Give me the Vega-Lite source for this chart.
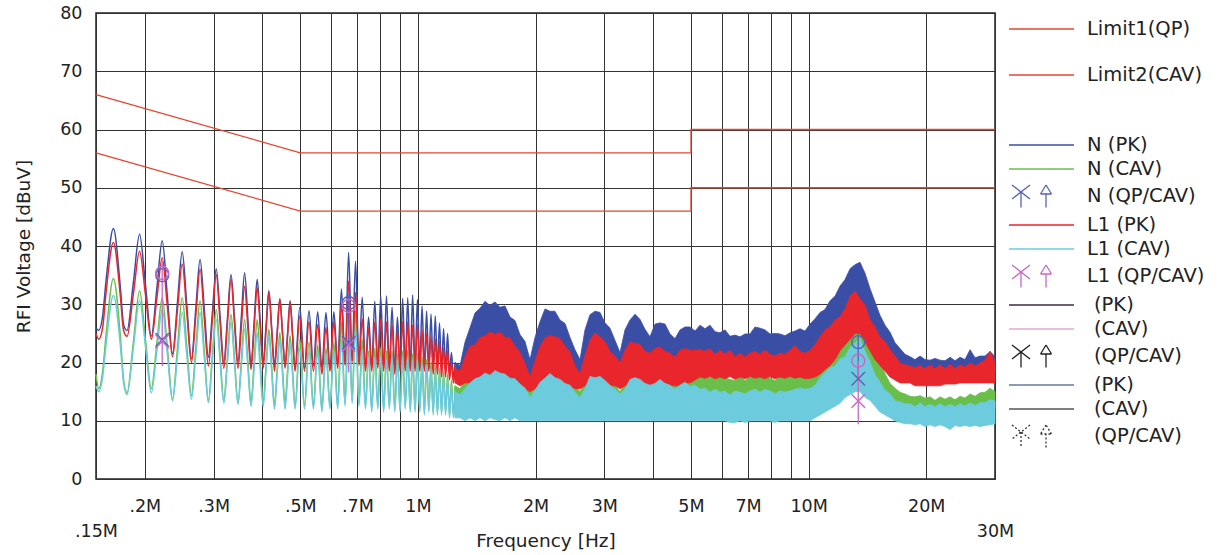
{
"$schema":"https://vega.github.io/schema/vega-lite/v6.json",
"width":899,"height":466,
"autosize":{"type":"none"},
"padding":{"left":96,"top":13,"right":225,"bottom":76},
"background":"white",
"config":{
 "font":"DejaVu Sans",
 "view":{"stroke":"#222","strokeWidth":1.5},
 "axis":{"grid":true,"gridColor":"#333","gridWidth":1,"gridOpacity":1,"ticks":false,"tickSize":0,"domain":false,"labelFont":"DejaVu Sans","labelFontSize":17.5,"labelColor":"#222","titleFont":"DejaVu Sans","titleFontSize":18.5,"titleFontWeight":"normal","titleColor":"#222"},
 "legend":{"labelFont":"DejaVu Sans","labelFontSize":19.5,"labelColor":"#222","padding":0}
},
"datasets":{
 "lim":[
  {"f":0.15,"v":66,"lim":"Limit1(QP)","i":0},{"f":0.5,"v":56,"lim":"Limit1(QP)","i":1},{"f":5,"v":56,"lim":"Limit1(QP)","i":2},{"f":5,"v":60,"lim":"Limit1(QP)","i":3},{"f":30,"v":60,"lim":"Limit1(QP)","i":4},
  {"f":0.15,"v":56,"lim":"Limit2(CAV)","i":0},{"f":0.5,"v":46,"lim":"Limit2(CAV)","i":1},{"f":5,"v":46,"lim":"Limit2(CAV)","i":2},{"f":5,"v":50,"lim":"Limit2(CAV)","i":3},{"f":30,"v":50,"lim":"Limit2(CAV)","i":4}
 ],
 "lo":[
  {"f":0.15,"n":26,"g":18,"l":25,"c":16},
  {"f":0.1524,"n":25.5,"g":15.5,"l":24,"c":15},
  {"f":0.156,"n":28,"g":18.5,"l":26,"c":17.5},
  {"f":0.1593,"n":34.3,"g":25,"l":32.3,"c":23.3},
  {"f":0.1662,"n":43,"g":34.4,"l":40.6,"c":31.5},
  {"f":0.1731,"n":33,"g":24.6,"l":31.5,"c":23},
  {"f":0.1765,"n":26.5,"g":17,"l":25.5,"c":16.5},
  {"f":0.1801,"n":25.5,"g":14.8,"l":24.5,"c":14.5},
  {"f":0.187,"n":33.8,"g":23.6,"l":31.8,"c":22.6},
  {"f":0.1939,"n":42,"g":32.3,"l":39.1,"c":30.6},
  {"f":0.2008,"n":33.3,"g":23.9,"l":31.6,"c":22.7},
  {"f":0.2078,"n":24.5,"g":15.5,"l":24,"c":14.8},
  {"f":0.2147,"n":32.7,"g":23.3,"l":31,"c":22},
  {"f":0.2216,"n":40.9,"g":31.1,"l":38,"c":29.1},
  {"f":0.2285,"n":31.2,"g":22.4,"l":29.5,"c":21.3},
  {"f":0.2355,"n":21.5,"g":13.7,"l":21,"c":13.4},
  {"f":0.2424,"n":30.3,"g":22.4,"l":29,"c":21},
  {"f":0.2493,"n":39,"g":31.1,"l":36.9,"c":28.6},
  {"f":0.2562,"n":29.8,"g":22.7,"l":28.5,"c":21.2},
  {"f":0.2632,"n":20.6,"g":14.3,"l":20,"c":13.7},
  {"f":0.2701,"n":29.2,"g":22.5,"l":28,"c":21.2},
  {"f":0.277,"n":37.7,"g":30.6,"l":36,"c":28.6},
  {"f":0.2839,"n":29.3,"g":22,"l":27.7,"c":20.9},
  {"f":0.2909,"n":20.9,"g":13.4,"l":19.4,"c":13.1},
  {"f":0.2978,"n":28.5,"g":21.3,"l":27.3,"c":20.3},
  {"f":0.3047,"n":36.1,"g":29.1,"l":35.1,"c":27.4},
  {"f":0.3116,"n":28,"g":21.3,"l":27,"c":20.2},
  {"f":0.3186,"n":20,"g":13.5,"l":19,"c":13},
  {"f":0.3255,"n":27.6,"g":20.9,"l":26.7,"c":20},
  {"f":0.3324,"n":35.1,"g":28.3,"l":34.3,"c":26.9},
  {"f":0.3393,"n":27.6,"g":20.7,"l":26.7,"c":19.9},
  {"f":0.3463,"n":20,"g":13,"l":19,"c":12.8},
  {"f":0.3532,"n":27.7,"g":20.2,"l":26,"c":19.3},
  {"f":0.3601,"n":35.4,"g":27.4,"l":33.1,"c":25.7},
  {"f":0.3671,"n":27.5,"g":20.2,"l":26,"c":19.1},
  {"f":0.374,"n":19.5,"g":13,"l":18.8,"c":12.5},
  {"f":0.3809,"n":26.9,"g":20.2,"l":25.9,"c":18.8},
  {"f":0.3878,"n":34.3,"g":27.4,"l":32.9,"c":25.1},
  {"f":0.3948,"n":27.2,"g":20.2,"l":26,"c":18.8},
  {"f":0.4017,"n":20,"g":13,"l":19,"c":12.5},
  {"f":0.4086,"n":26.2,"g":19.4,"l":25.5,"c":18.6},
  {"f":0.4155,"n":32.3,"g":25.7,"l":32,"c":24.6},
  {"f":0.4225,"n":25.9,"g":19.1,"l":25.3,"c":18.3},
  {"f":0.4294,"n":19.5,"g":12.5,"l":18.5,"c":12},
  {"f":0.4363,"n":25.2,"g":18.8,"l":24.7,"c":18},
  {"f":0.4432,"n":30.9,"g":25.1,"l":30.9,"c":24},
  {"f":0.4502,"n":25.2,"g":19,"l":25,"c":18},
  {"f":0.4571,"n":19.5,"g":13,"l":19,"c":12},
  {"f":0.464,"n":25,"g":18.8,"l":24.7,"c":17.7},
  {"f":0.4709,"n":30.6,"g":24.6,"l":30.3,"c":23.4},
  {"f":0.4779,"n":24.8,"g":18.6,"l":24.4,"c":17.7},
  {"f":0.4848,"n":19,"g":12.5,"l":18.5,"c":12},
  {"f":0.4986,"n":29.5,"g":24,"l":28,"c":22.5},
  {"f":0.5125,"n":19,"g":12.5,"l":18.5,"c":12},
  {"f":0.5263,"n":28.9,"g":23.5,"l":27,"c":22},
  {"f":0.5402,"n":19.5,"g":12.5,"l":18.5,"c":12},
  {"f":0.554,"n":28.7,"g":23,"l":26.5,"c":22},
  {"f":0.5679,"n":19,"g":12,"l":18,"c":11.5},
  {"f":0.5817,"n":28.6,"g":22.5,"l":26,"c":21.5},
  {"f":0.5956,"n":19,"g":12.5,"l":18.5,"c":12},
  {"f":0.6094,"n":28.7,"g":23.5,"l":27,"c":22},
  {"f":0.6233,"n":19.5,"g":12.5,"l":19,"c":12},
  {"f":0.6371,"n":32.6,"g":27,"l":30,"c":24},
  {"f":0.651,"n":20,"g":13,"l":19.5,"c":12.5},
  {"f":0.6648,"n":38.9,"g":31,"l":34,"c":27},
  {"f":0.6787,"n":20.5,"g":13.5,"l":20,"c":13},
  {"f":0.6925,"n":37.4,"g":29,"l":32,"c":26},
  {"f":0.7064,"n":20,"g":13,"l":19.5,"c":12.5},
  {"f":0.7202,"n":31.2,"g":24,"l":27.5,"c":22},
  {"f":0.7341,"n":19,"g":12.5,"l":18.5,"c":12},
  {"f":0.7479,"n":27.8,"g":22,"l":26,"c":21},
  {"f":0.7618,"n":19,"g":12,"l":18.5,"c":11.5},
  {"f":0.7756,"n":30.5,"g":22.5,"l":27,"c":21},
  {"f":0.7895,"n":19.5,"g":12.5,"l":19,"c":12},
  {"f":0.8033,"n":31.4,"g":22.5,"l":27.5,"c":21},
  {"f":0.8172,"n":19,"g":12,"l":18.5,"c":11.5},
  {"f":0.831,"n":31.4,"g":22,"l":27,"c":20.5},
  {"f":0.8449,"n":19,"g":12.5,"l":18.5,"c":12},
  {"f":0.8587,"n":29.5,"g":22,"l":26.5,"c":21},
  {"f":0.8726,"n":18.5,"g":12,"l":18,"c":11.5},
  {"f":0.8864,"n":27.8,"g":21.5,"l":25.5,"c":20.5},
  {"f":0.9003,"n":19,"g":12,"l":18.5,"c":11.5},
  {"f":0.9141,"n":31,"g":22,"l":27,"c":21},
  {"f":0.928,"n":19,"g":12.5,"l":18.5,"c":12},
  {"f":0.9418,"n":31.1,"g":22,"l":27,"c":21},
  {"f":0.9557,"n":19,"g":12,"l":18.5,"c":11.5},
  {"f":0.9695,"n":31.6,"g":21.5,"l":26.5,"c":20.5},
  {"f":0.9834,"n":19,"g":12,"l":18.5,"c":11.5},
  {"f":0.9972,"n":30.8,"g":21.5,"l":26.5,"c":20.5},
  {"f":1.011,"n":19,"g":12,"l":18.5,"c":11.5},
  {"f":1.0249,"n":29.7,"g":21,"l":25.5,"c":20},
  {"f":1.0388,"n":19,"g":11.5,"l":18.5,"c":11},
  {"f":1.0526,"n":28.8,"g":20.5,"l":25,"c":19.5},
  {"f":1.0665,"n":19,"g":12,"l":18.5,"c":11.5},
  {"f":1.0803,"n":28.3,"g":20,"l":24.5,"c":19},
  {"f":1.0942,"n":19,"g":11.5,"l":18,"c":11},
  {"f":1.108,"n":28,"g":19.5,"l":24,"c":18.5},
  {"f":1.1219,"n":19,"g":11.5,"l":18,"c":11},
  {"f":1.1357,"n":26.8,"g":19,"l":23.5,"c":18},
  {"f":1.1496,"n":18.5,"g":11.5,"l":17.5,"c":11},
  {"f":1.1634,"n":25.8,"g":18.5,"l":22.5,"c":17.5},
  {"f":1.1773,"n":18.5,"g":11.5,"l":17.5,"c":11},
  {"f":1.1911,"n":25,"g":18,"l":22,"c":17},
  {"f":1.205,"n":18,"g":11,"l":17,"c":10.5},
  {"f":1.2188,"n":21.7,"g":17,"l":20,"c":16},
  {"f":1.2327,"n":17.5,"g":11,"l":16.5,"c":10.5},
  {"f":1.2465,"n":20,"g":16,"l":19.5,"c":15}
 ],
 "hi":[
  {"f":1.244,"n1":20,"n2":17,"g1":16,"g2":11,"l1":19,"l2":16.5,"c1":15,"c2":10.5},
  {"f":1.282,"n1":19.5,"n2":16.5,"g1":15.5,"g2":11,"l1":18.5,"l2":16,"c1":14.5,"c2":10.5},
  {"f":1.32,"n1":23.5,"n2":17.5,"g1":17,"g2":11,"l1":21,"l2":16.5,"c1":15.5,"c2":10},
  {"f":1.36,"n1":26,"n2":18,"g1":18.5,"g2":11,"l1":22.8,"l2":16.5,"c1":16.5,"c2":10.5},
  {"f":1.4,"n1":28.5,"n2":19,"g1":18,"g2":11,"l1":23,"l2":17,"c1":17.2,"c2":10},
  {"f":1.442,"n1":29.3,"n2":19.5,"g1":19.8,"g2":11,"l1":24.3,"l2":17,"c1":17.5,"c2":10.5},
  {"f":1.485,"n1":30.5,"n2":20,"g1":19,"g2":10.5,"l1":24.5,"l2":17,"c1":18.2,"c2":10},
  {"f":1.529,"n1":29.8,"n2":20,"g1":20.2,"g2":11,"l1":25.3,"l2":17,"c1":17.8,"c2":10.5},
  {"f":1.575,"n1":30.4,"n2":20.5,"g1":20.5,"g2":11,"l1":24.8,"l2":17,"c1":18.6,"c2":10.2},
  {"f":1.622,"n1":29.5,"n2":20,"g1":19.8,"g2":10.5,"l1":25.2,"l2":17,"c1":18.2,"c2":10},
  {"f":1.671,"n1":29.7,"n2":20,"g1":19.6,"g2":11,"l1":24.3,"l2":17,"c1":18,"c2":10.5},
  {"f":1.721,"n1":27.8,"n2":19.5,"g1":19.2,"g2":10.5,"l1":24.2,"l2":16.5,"c1":17.3,"c2":10},
  {"f":1.772,"n1":27.2,"n2":19,"g1":18.3,"g2":11,"l1":22.8,"l2":16.5,"c1":17.2,"c2":10.5},
  {"f":1.825,"n1":24.8,"n2":18.5,"g1":17.6,"g2":10.5,"l1":21.7,"l2":16,"c1":16.3,"c2":10},
  {"f":1.88,"n1":23.6,"n2":18,"g1":16.4,"g2":10.5,"l1":19.8,"l2":15.5,"c1":15.6,"c2":10},
  {"f":1.936,"n1":20.5,"n2":16.5,"g1":15,"g2":10.5,"l1":17.5,"l2":15,"c1":14,"c2":10},
  {"f":1.994,"n1":24.3,"n2":16.5,"g1":16.2,"g2":10.5,"l1":20.2,"l2":15.5,"c1":15.2,"c2":10},
  {"f":2.054,"n1":27,"n2":18,"g1":17.4,"g2":10.5,"l1":22.8,"l2":16,"c1":16.6,"c2":10},
  {"f":2.115,"n1":29.2,"n2":18.5,"g1":18.7,"g2":10.5,"l1":24.2,"l2":16,"c1":17.3,"c2":10},
  {"f":2.178,"n1":28.8,"n2":19,"g1":19,"g2":10.5,"l1":24.6,"l2":16.5,"c1":18.1,"c2":10},
  {"f":2.243,"n1":28.8,"n2":19,"g1":19.2,"g2":10.5,"l1":24.4,"l2":16.5,"c1":17.4,"c2":10},
  {"f":2.31,"n1":27.3,"n2":18.5,"g1":18.4,"g2":10.5,"l1":24.1,"l2":16.5,"c1":17.1,"c2":10},
  {"f":2.38,"n1":26.7,"n2":18.5,"g1":18.1,"g2":10.5,"l1":22.8,"l2":16,"c1":16.4,"c2":10},
  {"f":2.451,"n1":24.3,"n2":18,"g1":16.8,"g2":10.5,"l1":21.8,"l2":16,"c1":16.1,"c2":10},
  {"f":2.524,"n1":22.2,"n2":17.5,"g1":16,"g2":10.5,"l1":19.4,"l2":15.5,"c1":14.9,"c2":10},
  {"f":2.6,"n1":20.5,"n2":17,"g1":15,"g2":10.5,"l1":18,"l2":15.5,"c1":14,"c2":10},
  {"f":2.677,"n1":25.6,"n2":17.5,"g1":16.6,"g2":10.5,"l1":21.2,"l2":16,"c1":15.5,"c2":10},
  {"f":2.757,"n1":28.2,"n2":18.5,"g1":18.4,"g2":10.5,"l1":23.8,"l2":16.5,"c1":17.6,"c2":10},
  {"f":2.84,"n1":28.8,"n2":19,"g1":19.6,"g2":10.5,"l1":25.1,"l2":16.5,"c1":17.4,"c2":10},
  {"f":2.925,"n1":28.6,"n2":19,"g1":18.9,"g2":10.5,"l1":24.4,"l2":16.5,"c1":17.6,"c2":10},
  {"f":3.012,"n1":26.8,"n2":18.5,"g1":18.1,"g2":10.5,"l1":23.6,"l2":16.5,"c1":16.9,"c2":10},
  {"f":3.102,"n1":25.9,"n2":18.5,"g1":16.9,"g2":10.5,"l1":21.9,"l2":16,"c1":16.1,"c2":10},
  {"f":3.195,"n1":23.8,"n2":18,"g1":16.1,"g2":10.5,"l1":21.1,"l2":16,"c1":15.4,"c2":10},
  {"f":3.291,"n1":21.7,"n2":17.5,"g1":15,"g2":10.5,"l1":19.9,"l2":15.5,"c1":14.6,"c2":10},
  {"f":3.389,"n1":25.6,"n2":18,"g1":16.6,"g2":10.5,"l1":22.1,"l2":16,"c1":15.4,"c2":10},
  {"f":3.491,"n1":27.3,"n2":18.5,"g1":17.9,"g2":10.5,"l1":23.5,"l2":16.5,"c1":17.1,"c2":10},
  {"f":3.595,"n1":28.3,"n2":19,"g1":18.6,"g2":10.5,"l1":23.3,"l2":16.5,"c1":17.4,"c2":10},
  {"f":3.703,"n1":27.4,"n2":18.5,"g1":17.9,"g2":10.5,"l1":23.1,"l2":16.5,"c1":17.1,"c2":10},
  {"f":3.813,"n1":25.7,"n2":18.5,"g1":17.6,"g2":10.5,"l1":21.9,"l2":16,"c1":16.4,"c2":10},
  {"f":3.927,"n1":24.4,"n2":18,"g1":16.4,"g2":10.5,"l1":21.6,"l2":16,"c1":16.1,"c2":10},
  {"f":4.045,"n1":26.6,"n2":18.5,"g1":17.6,"g2":10.5,"l1":22.4,"l2":16.5,"c1":16.4,"c2":10},
  {"f":4.166,"n1":26.8,"n2":18.5,"g1":17.4,"g2":10.5,"l1":22.7,"l2":16.5,"c1":17.1,"c2":10},
  {"f":4.29,"n1":26.6,"n2":18.5,"g1":17.1,"g2":10.5,"l1":21.9,"l2":16.5,"c1":16.4,"c2":10},
  {"f":4.419,"n1":24.9,"n2":18,"g1":16.6,"g2":10.5,"l1":21.6,"l2":16,"c1":16.1,"c2":10},
  {"f":4.551,"n1":24.1,"n2":18,"g1":15.9,"g2":10.5,"l1":20.9,"l2":16,"c1":15.4,"c2":10},
  {"f":4.687,"n1":25.6,"n2":18,"g1":17.1,"g2":10.5,"l1":22.1,"l2":16,"c1":16.1,"c2":10},
  {"f":4.827,"n1":26.1,"n2":18.5,"g1":17.4,"g2":10.5,"l1":22.4,"l2":16.5,"c1":16.6,"c2":10},
  {"f":4.972,"n1":26.1,"n2":18.5,"g1":17.6,"g2":10.5,"l1":22.1,"l2":16.5,"c1":15.9,"c2":10},
  {"f":5.121,"n1":25.4,"n2":19,"g1":17.4,"g2":11,"l1":22.1,"l2":17,"c1":16.1,"c2":10},
  {"f":5.274,"n1":26.4,"n2":20,"g1":18.1,"g2":11.5,"l1":22.2,"l2":17.5,"c1":15.4,"c2":10},
  {"f":5.431,"n1":25.8,"n2":20,"g1":17.8,"g2":11.5,"l1":21.9,"l2":17.3,"c1":15.6,"c2":10},
  {"f":5.594,"n1":26.4,"n2":20,"g1":17.4,"g2":11.5,"l1":22.4,"l2":17.6,"c1":14.9,"c2":10},
  {"f":5.761,"n1":25.3,"n2":20,"g1":17.6,"g2":11.5,"l1":21.4,"l2":17.2,"c1":15.4,"c2":10},
  {"f":5.933,"n1":25.1,"n2":20,"g1":18.1,"g2":11.5,"l1":22.1,"l2":17.5,"c1":14.9,"c2":10},
  {"f":6.111,"n1":25.6,"n2":20,"g1":17.4,"g2":11.5,"l1":21.4,"l2":17.2,"c1":15.1,"c2":10},
  {"f":6.293,"n1":24.5,"n2":20,"g1":17.1,"g2":11.5,"l1":22.1,"l2":17.6,"c1":14.4,"c2":9.7},
  {"f":6.481,"n1":24.7,"n2":19.5,"g1":16.9,"g2":11.5,"l1":20.9,"l2":17.1,"c1":15.1,"c2":9.7},
  {"f":6.675,"n1":24.4,"n2":19.5,"g1":17.6,"g2":11.5,"l1":21.6,"l2":17.5,"c1":14.9,"c2":10},
  {"f":6.875,"n1":24.9,"n2":19.5,"g1":16.9,"g2":11.5,"l1":20.9,"l2":17.2,"c1":14.6,"c2":9.7},
  {"f":7.081,"n1":24.9,"n2":19.5,"g1":17.6,"g2":11.5,"l1":21.6,"l2":17.6,"c1":15.1,"c2":10},
  {"f":7.293,"n1":26.1,"n2":20,"g1":17.4,"g2":11.5,"l1":21.9,"l2":17.3,"c1":15.4,"c2":10},
  {"f":7.511,"n1":25.9,"n2":20,"g1":17.6,"g2":11.5,"l1":21.4,"l2":17.5,"c1":14.9,"c2":10},
  {"f":7.736,"n1":25.6,"n2":20,"g1":18.1,"g2":11.5,"l1":22.1,"l2":17.2,"c1":15.4,"c2":10},
  {"f":7.967,"n1":24.9,"n2":20,"g1":17.4,"g2":11.5,"l1":21.4,"l2":17.6,"c1":15.1,"c2":10},
  {"f":8.205,"n1":25,"n2":20,"g1":16.9,"g2":11.5,"l1":21.1,"l2":17.2,"c1":14.6,"c2":9.7},
  {"f":8.451,"n1":24.9,"n2":20,"g1":17.6,"g2":11.5,"l1":21.6,"l2":17.5,"c1":15.1,"c2":10},
  {"f":8.703,"n1":24.6,"n2":20,"g1":17.4,"g2":11.5,"l1":21.4,"l2":17.3,"c1":14.9,"c2":10},
  {"f":8.964,"n1":25.1,"n2":20,"g1":17.6,"g2":11.5,"l1":22.1,"l2":17.6,"c1":15.1,"c2":10},
  {"f":9.232,"n1":25.4,"n2":20,"g1":18.1,"g2":11.5,"l1":22.9,"l2":17.3,"c1":15.4,"c2":10},
  {"f":9.508,"n1":25.8,"n2":20,"g1":17.9,"g2":11.5,"l1":21.9,"l2":17.5,"c1":15.6,"c2":10},
  {"f":9.792,"n1":25.4,"n2":20,"g1":17.6,"g2":11.5,"l1":21.6,"l2":17.2,"c1":15.4,"c2":10},
  {"f":10.09,"n1":26.6,"n2":20.5,"g1":18.1,"g2":11.5,"l1":22.1,"l2":17.3,"c1":15.6,"c2":10},
  {"f":10.39,"n1":27.5,"n2":21,"g1":18.6,"g2":12,"l1":23.1,"l2":17.5,"c1":16.1,"c2":10.5},
  {"f":10.7,"n1":28.6,"n2":22,"g1":20.1,"g2":12.5,"l1":24.4,"l2":18,"c1":17.4,"c2":11},
  {"f":11.02,"n1":29.1,"n2":23,"g1":21.6,"g2":13,"l1":25.6,"l2":18.8,"c1":18.3,"c2":11.5},
  {"f":11.35,"n1":30.6,"n2":24,"g1":22.8,"g2":14,"l1":26.2,"l2":19.5,"c1":19.1,"c2":12},
  {"f":11.69,"n1":31.4,"n2":25,"g1":24.1,"g2":14.5,"l1":27.3,"l2":20.5,"c1":19.4,"c2":12.5},
  {"f":12.03,"n1":33.1,"n2":26.5,"g1":24.9,"g2":15,"l1":27.9,"l2":22,"c1":20.6,"c2":13},
  {"f":12.39,"n1":34.2,"n2":27.5,"g1":26.4,"g2":16,"l1":29.2,"l2":23,"c1":21,"c2":14},
  {"f":12.77,"n1":36.1,"n2":28.5,"g1":27.4,"g2":17,"l1":31.4,"l2":24,"c1":22.6,"c2":14.5},
  {"f":13.15,"n1":36.8,"n2":29,"g1":28.4,"g2":17.5,"l1":32.3,"l2":25,"c1":23.4,"c2":15},
  {"f":13.54,"n1":37.2,"n2":29,"g1":27.4,"g2":17.5,"l1":30.9,"l2":25,"c1":24.1,"c2":15},
  {"f":13.95,"n1":35.3,"n2":28,"g1":26.1,"g2":16.5,"l1":29.8,"l2":23.5,"c1":21.9,"c2":14},
  {"f":14.36,"n1":32.7,"n2":26.5,"g1":24.5,"g2":15.5,"l1":27.4,"l2":22,"c1":20.1,"c2":13.5},
  {"f":14.79,"n1":30.4,"n2":25,"g1":22.1,"g2":14.5,"l1":26.1,"l2":20.5,"c1":17.9,"c2":12.5},
  {"f":15.23,"n1":28.1,"n2":23.5,"g1":19.9,"g2":13.5,"l1":24.4,"l2":19.5,"c1":16.6,"c2":11.5},
  {"f":15.69,"n1":26.4,"n2":22,"g1":18.1,"g2":13,"l1":23.6,"l2":18.5,"c1":15.3,"c2":11},
  {"f":16.16,"n1":25.2,"n2":21,"g1":16.4,"g2":12.5,"l1":22.2,"l2":17.5,"c1":14.6,"c2":10.5},
  {"f":16.64,"n1":23.4,"n2":20,"g1":15.6,"g2":12,"l1":21.1,"l2":17,"c1":13.4,"c2":10},
  {"f":17.14,"n1":22.4,"n2":19.5,"g1":14.9,"g2":12,"l1":19.9,"l2":16.5,"c1":13.2,"c2":9.7},
  {"f":17.65,"n1":21.4,"n2":19,"g1":14.6,"g2":11.5,"l1":19.6,"l2":16.5,"c1":12.9,"c2":9.5},
  {"f":18.18,"n1":21,"n2":19,"g1":14.2,"g2":11.5,"l1":19.4,"l2":16.5,"c1":12.9,"c2":9.5},
  {"f":18.72,"n1":20.5,"n2":18.5,"g1":14.1,"g2":11.5,"l1":19.1,"l2":16,"c1":12.4,"c2":9.3},
  {"f":19.29,"n1":21.1,"n2":18.5,"g1":14.3,"g2":11.5,"l1":19.5,"l2":16,"c1":13.1,"c2":9.5},
  {"f":19.86,"n1":20.5,"n2":18.5,"g1":13.9,"g2":11.5,"l1":18.9,"l2":16,"c1":12.4,"c2":9},
  {"f":20.46,"n1":20.4,"n2":18.5,"g1":14.1,"g2":11.5,"l1":19.6,"l2":16,"c1":12.8,"c2":9.3},
  {"f":21.07,"n1":20.7,"n2":18.5,"g1":13.5,"g2":11,"l1":18.9,"l2":16,"c1":12.4,"c2":9},
  {"f":21.7,"n1":20.4,"n2":18.5,"g1":14.1,"g2":11.5,"l1":19.6,"l2":16,"c1":12.9,"c2":9.3},
  {"f":22.35,"n1":20.3,"n2":18.5,"g1":13.7,"g2":11.5,"l1":18.9,"l2":16.3,"c1":12.4,"c2":9},
  {"f":23.02,"n1":20.9,"n2":18.5,"g1":14.1,"g2":11.5,"l1":19.7,"l2":16.3,"c1":12.8,"c2":8.5},
  {"f":23.71,"n1":20.3,"n2":18.5,"g1":13.6,"g2":11.5,"l1":18.9,"l2":16.3,"c1":12.4,"c2":9.2},
  {"f":24.41,"n1":20.9,"n2":18.5,"g1":14.2,"g2":11.5,"l1":19.6,"l2":16.5,"c1":12.9,"c2":9},
  {"f":25.14,"n1":20.5,"n2":18.5,"g1":13.9,"g2":11.5,"l1":19.2,"l2":16.5,"c1":12.5,"c2":9.2},
  {"f":25.9,"n1":22.2,"n2":18.5,"g1":14.6,"g2":11.5,"l1":19.9,"l2":16.5,"c1":13.1,"c2":9},
  {"f":26.67,"n1":20.8,"n2":18.5,"g1":14.2,"g2":11.5,"l1":19.4,"l2":16.5,"c1":12.6,"c2":9.2},
  {"f":27.47,"n1":21.1,"n2":18.5,"g1":14.8,"g2":11.5,"l1":19.9,"l2":16.5,"c1":13.1,"c2":9},
  {"f":28.29,"n1":21.1,"n2":18.5,"g1":14.9,"g2":11.5,"l1":20.4,"l2":16.5,"c1":13.1,"c2":9.2},
  {"f":29.14,"n1":21.9,"n2":18.5,"g1":15.6,"g2":12,"l1":21.9,"l2":16.5,"c1":13.6,"c2":9.3},
  {"f":30,"n1":21,"n2":18.5,"g1":15,"g2":12,"l1":20.1,"l2":16.5,"c1":13.4,"c2":9.5}
 ],
 "stem":[
  {"f":0.2216,"a":37.5,"b":19.4,"s":"L1 (QP/CAV)"},
  {"f":0.665,"a":31.8,"b":18.3,"s":"L1 (QP/CAV)"},
  {"f":0.665,"a":31.8,"b":23.4,"s":"N (QP/CAV)"},
  {"f":13.4,"a":25,"b":17.2,"s":"N (QP/CAV)"},
  {"f":13.4,"a":20.3,"b":9.4,"s":"L1 (QP/CAV)"}
 ],
 "qp":[
  {"f":0.2216,"v":35.0,"s":"N (QP/CAV)"},{"f":0.2216,"v":35.4,"s":"L1 (QP/CAV)"},
  {"f":0.665,"v":30.2,"s":"N (QP/CAV)"},{"f":0.665,"v":29.7,"s":"L1 (QP/CAV)"},
  {"f":13.4,"v":23.5,"s":"N (QP/CAV)"},{"f":13.4,"v":20.3,"s":"L1 (QP/CAV)"}
 ],
 "av":[
  {"f":0.2216,"v":23.9,"s":"N (QP/CAV)"},{"f":0.2216,"v":23.6,"s":"L1 (QP/CAV)"},
  {"f":0.665,"v":23.4,"s":"N (QP/CAV)"},{"f":0.665,"v":23.0,"s":"L1 (QP/CAV)"},
  {"f":13.4,"v":17.2,"s":"N (QP/CAV)"},{"f":13.4,"v":13.4,"s":"L1 (QP/CAV)"}
 ]
},
"encoding":{
 "x":{"field":"f","type":"quantitative","scale":{"type":"log","domain":[0.15,30],"nice":false},
  "axis":{"title":"Frequency [Hz]","values":[0.15,0.2,0.3,0.4,0.5,0.6,0.7,0.8,0.9,1,2,3,4,5,6,7,8,9,10,20,30],
   "labelExpr":"datum.value==0.15?'.15M':datum.value==0.2?'.2M':datum.value==0.3?'.3M':datum.value==0.5?'.5M':datum.value==0.7?'.7M':datum.value==1?'1M':datum.value==2?'2M':datum.value==3?'3M':datum.value==5?'5M':datum.value==7?'7M':datum.value==10?'10M':datum.value==20?'20M':datum.value==30?'30M':''",
   "labelPadding":{"condition":{"test":"datum.value<=0.15||datum.value>=30","value":43},"value":18},
   "labelFlush":false,"labelOverlap":false,"labelBound":false,"titleY":61,"titleBaseline":"middle"}}
},
"layer":[
 {"data":{"name":"lim"},"mark":{"type":"line","strokeWidth":1.3},
  "encoding":{
   "y":{"field":"v","type":"quantitative","scale":{"domain":[0,80]},"axis":{"title":"RFI Voltage [dBuV]","values":[0,10,20,30,40,50,60,70,80],"labelPadding":14,"titlePadding":26}},
   "stroke":{"field":"lim","type":"nominal","title":null,"scale":{"domain":["Limit1(QP)","Limit2(CAV)"],"range":["#e5452f","#e5452f"]},
    "legend":{"title":null,"orient":"none","legendX":912,"legendY":5,"symbolType":"M-1,0L5.5,0","symbolSize":400,"symbolStrokeWidth":1.3,"labelOffset":57,"rowPadding":25,"padding":0,"labelFontSize":19.5}},
   "order":{"field":"i","type":"quantitative"}}},
 {"data":{"name":"lo"},"mark":{"type":"line","strokeWidth":1.5,"interpolate":"monotone"},
  "encoding":{"y":{"field":"n","type":"quantitative","scale":{"domain":[0,80]}},
   "color":{"datum":"N (PK)","type":"nominal","title":null,
    "scale":{"domain":["N (PK)","N (CAV)","N (QP/CAV)","L1 (PK)","L1 (CAV)","L1 (QP/CAV)","a (PK)","a (CAV)","a (QP/CAV)","b (PK)","b (CAV)","b (QP/CAV)"],"range":["#3b4ea6","#6abf4b","#5a62b5","#e8262b","#6ccbdd","#c868c4","#3c2f3f","#e3a6d6","#222222","#6877a8","#555555","#333333"]},
    "legend":{"title":null,"orient":"none","legendX":912,"legendY":121,"symbolType":"M-1,0L5.5,0","symbolSize":400,"symbolStrokeWidth":1.3,"labelOffset":57,"rowPadding":3,"padding":0,"labelFontSize":19.5,
     "labelExpr":"replace(replace(datum.label,'a (','('),'b (','(')",
     "encode":{
      "labels":{"update":{"dx":{"signal":"indexof(datum.value,'a (')==0||indexof(datum.value,'b (')==0 ? 7 : 0"}}},
      "symbols":{"update":{
      "shape":{"signal":"indexof(datum.value,'QP/CAV')>=0 ? 'M-0.7,-1.1L1.1,0.3M1.1,-1.1L-0.7,0.3M0.2,-0.4L0.2,1.15M2.7,1.15L2.7,-0.2M2.15,-0.2L3.25,-0.2M3.25,-0.2L2.7,-1.1M2.7,-1.1L2.15,-0.2' : 'M-1,0L5.5,0'"},
      "fill":{"value":"transparent"},
      "stroke":{"scale":"color","field":"value"},
      "strokeDash":{"signal":"datum.value=='b (QP/CAV)' ? [2,2] : []"}}}}}}}},
 {"data":{"name":"hi"},"mark":{"type":"area","stroke":"#3b4ea6","strokeWidth":0.8},
  "encoding":{"y":{"field":"n1","type":"quantitative","scale":{"domain":[0,80]}},"y2":{"field":"n2"},"color":{"datum":"N (PK)","type":"nominal","title":null}}},
 {"data":{"name":"lo"},"mark":{"type":"line","strokeWidth":1.5,"interpolate":"monotone"},
  "encoding":{"y":{"field":"g","type":"quantitative","scale":{"domain":[0,80]}},"color":{"datum":"N (CAV)","type":"nominal","title":null}}},
 {"data":{"name":"hi"},"mark":{"type":"area","stroke":"#6abf4b","strokeWidth":0.8},
  "encoding":{"y":{"field":"g1","type":"quantitative","scale":{"domain":[0,80]}},"y2":{"field":"g2"},"color":{"datum":"N (CAV)","type":"nominal","title":null}}},
 {"data":{"name":"lo"},"mark":{"type":"line","strokeWidth":1.5,"interpolate":"monotone"},
  "encoding":{"y":{"field":"l","type":"quantitative","scale":{"domain":[0,80]}},"color":{"datum":"L1 (PK)","type":"nominal","title":null}}},
 {"data":{"name":"hi"},"mark":{"type":"area","stroke":"#e8262b","strokeWidth":0.8},
  "encoding":{"y":{"field":"l1","type":"quantitative","scale":{"domain":[0,80]}},"y2":{"field":"l2"},"color":{"datum":"L1 (PK)","type":"nominal","title":null}}},
 {"data":{"name":"lo"},"mark":{"type":"line","strokeWidth":1.5,"interpolate":"monotone"},
  "encoding":{"y":{"field":"c","type":"quantitative","scale":{"domain":[0,80]}},"color":{"datum":"L1 (CAV)","type":"nominal","title":null}}},
 {"data":{"name":"hi"},"mark":{"type":"area","stroke":"#6ccbdd","strokeWidth":0.8},
  "encoding":{"y":{"field":"c1","type":"quantitative","scale":{"domain":[0,80]}},"y2":{"field":"c2"},"color":{"datum":"L1 (CAV)","type":"nominal","title":null}}},
 {"data":{"name":"stem"},"mark":{"type":"rule","strokeWidth":1.3},
  "encoding":{"y":{"field":"a","type":"quantitative","scale":{"domain":[0,80]}},"y2":{"field":"b"},"color":{"field":"s","type":"nominal","title":null}}},
 {"data":{"name":"qp"},"mark":{"type":"point","shape":"circle","filled":false,"size":170,"strokeWidth":1.4,"opacity":1},
  "encoding":{"y":{"field":"v","type":"quantitative","scale":{"domain":[0,80]}},"color":{"field":"s","type":"nominal","title":null}}},
 {"data":{"name":"av"},"mark":{"type":"point","shape":"M-1,-1L1,1M-1,1L1,-1","filled":false,"size":180,"strokeWidth":1.4,"opacity":1},
  "encoding":{"y":{"field":"v","type":"quantitative","scale":{"domain":[0,80]}},"color":{"field":"s","type":"nominal","title":null}}}
]
}
